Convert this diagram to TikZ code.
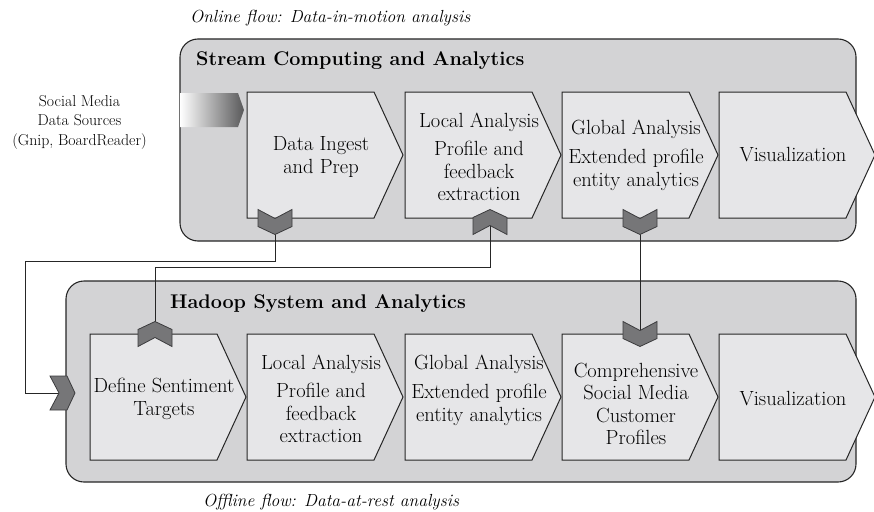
\documentclass[tikz,border=0pt]{standalone}
\usepackage{tikz}

\definecolor{panelgray}{RGB}{211,211,213}
\definecolor{boxgray}{RGB}{230,230,232}
\definecolor{chevgray}{RGB}{118,118,120}
\definecolor{edgegray}{RGB}{60,60,62}

\tikzset{
  panel/.style={draw=black!85, fill=panelgray, line width=1.1pt, rounded corners=18pt},
  procbox/.style={draw=black!85, fill=boxgray, line width=1pt},
  boxtext/.style={align=center, inner sep=0pt, font=\fontsize{20.5}{22.5}\selectfont},
  paneltitle/.style={anchor=base west, inner sep=0pt, font=\fontsize{19.8}{23}\selectfont\bfseries},
  flowlabel/.style={anchor=base west, inner sep=0pt, font=\fontsize{17.5}{20}\selectfont\itshape},
  chev/.style={fill=chevgray, draw=edgegray, line width=0.8pt},
  link/.style={draw=black!85, line width=1pt},
}
% small notched marker, centred on #1, pointing at angle #2
\newcommand{\chevron}[2]{%
  \filldraw[chev, shift={(#1)}, rotate=#2] (-12.5,-17) -- (4.5,-17) -- (12.5,0) -- (4.5,17) -- (-12.5,17) -- (-3.5,0) -- cycle;}
% process step, left edge #1, top edge #2
\newcommand{\procarrow}[2]{%
  \filldraw[procbox] (#1,#2) -- ++(127,0) -- ++(29,63) -- ++(-29,63) -- ++(-127,0) -- cycle;}

\begin{document}
\begin{tikzpicture}[x=1pt, y=-1pt]
    \useasboundingbox (0,0) rectangle (874,511);
    % the two panels
    \draw[panel] (180,39) rectangle (856,241);
    \draw[panel] (66,281) rectangle (856,482);

    \coordinate (cIngest) at (275,222);
    \coordinate (cLocal) at (490,222);
    \coordinate (cGlobal) at (640,222);
    \coordinate (cDefine) at (155,334);
    \coordinate (cProfiles) at (640,334);
    \coordinate (cEntry) at (62.5,393);
    \coordinate (loopL) at (25,261);

    \draw[link] (cIngest) |- (loopL) |- (cEntry);
    \draw[link] (cLocal) -- ++(0,45) -| (cDefine);
    \draw[link] (cGlobal) -- (cProfiles);

    % process steps
    \foreach \x in {247,405,562,719} { \procarrow{\x}{92} }
    \foreach \x in {90,247,405,562,719} { \procarrow{\x}{334} }

    % markers
    \chevron{cIngest}{-90}
    \chevron{cLocal}{90}
    \chevron{cGlobal}{-90}
    \chevron{cDefine}{90}
    \chevron{cProfiles}{-90}
    \chevron{cEntry}{0}
    \shade[left color=white, right color=chevgray!75!black] (180,93) -- (238,93) -- (244,110) -- (238,127) -- (180,127) -- cycle;

    \node[align=center, inner sep=0pt, font=\fontsize{15.8}{19.5}\selectfont] (sources) at (79.5,122) {Social Media\\Data Sources\\(Gnip, BoardReader)};

    \node[flowlabel] (onlineLbl) at (190,23) {Online flow: Data-in-motion analysis};
    \node[flowlabel] (offlineLbl) at (203,506) {Offline flow: Data-at-rest analysis};
    \node[paneltitle] (streamTitle) at (196,66) {Stream Computing and Analytics};
    \node[paneltitle] (hadoopTitle) at (170,308) {Hadoop System and Analytics};

    \node[boxtext] (ingest) at (321,157) {Data Ingest\\and Prep};
    \node[boxtext] (localOn) at (479,157) {Local Analysis\\[6pt]Profile and\\feedback\\extraction};
    \node[boxtext] (globalOn) at (636,155) {Global Analysis\\[7pt]Extended profile\\entity analytics};
    \node[boxtext] (visOn) at (793,155) {Visualization};

    \node[boxtext] (targets) at (164,399) {Define Sentiment\\Targets};
    \node[boxtext] (localOff) at (321,399) {Local Analysis\\[6pt]Profile and\\feedback\\extraction};
    \node[boxtext] (globalOff) at (479,390) {Global Analysis\\[7pt]Extended profile\\entity analytics};
    \node[boxtext] (profiles) at (636,404) {Comprehensive\\Social Media\\Customer\\Profiles};
    \node[boxtext] (visOff) at (793,399) {Visualization};
\end{tikzpicture}
\end{document}
